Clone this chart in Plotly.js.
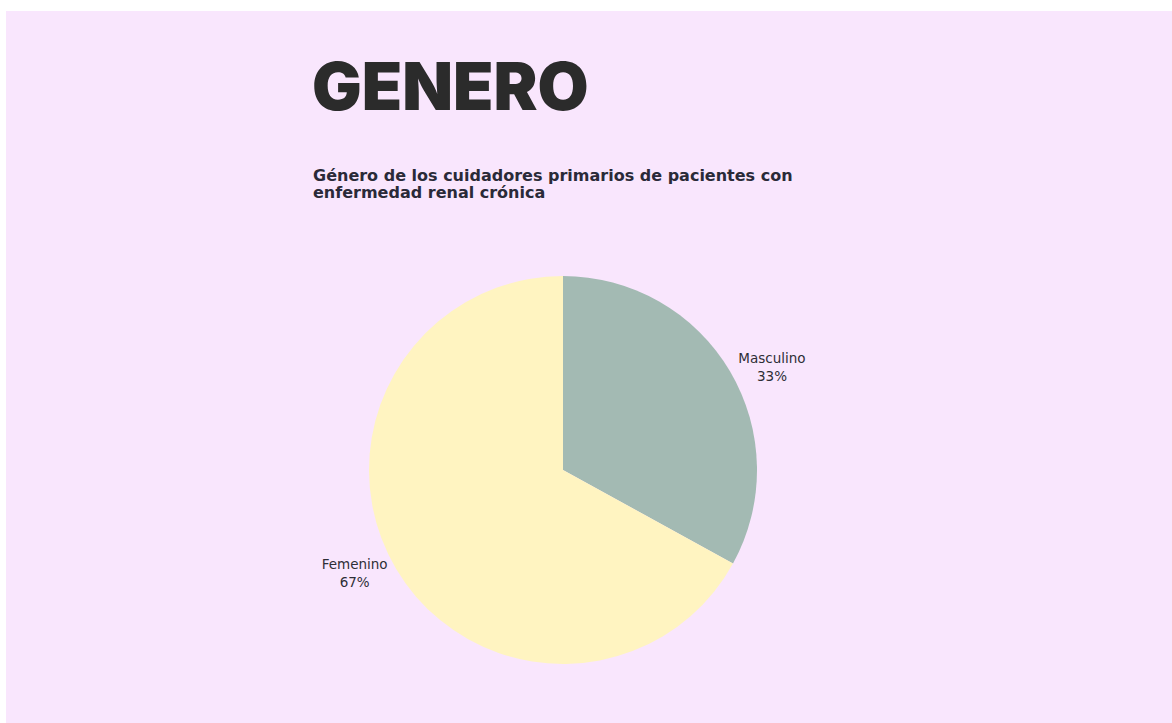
<!DOCTYPE html>
<html>
<head>
<meta charset="utf-8">
<script src="https://cdn.plot.ly/plotly-3.0.1.min.js"></script>
<style>
  html, body { margin: 0; padding: 0; background: #ffffff; }
  #chart { position: absolute; left: 6px; top: 11px; width: 1166px; height: 712px; }
</style>
</head>
<body>
<div id="chart"></div>
<script>
const categories = ["Masculino", "Femenino"];
const values = [33, 67];
const colors = ["#a3bab3", "#fff4c1"];
const mainTitle = "GENERO";
const subTitleLines = ["Género de los cuidadores primarios de pacientes con", "enfermedad renal crónica"];

const W = 1166, H = 712;
const fx = p => p / W;
const fy = p => 1 - p / H;

const cx = 557, cy = 459, r = 194;

const trace = {
  type: "pie",
  labels: categories,
  values: values,
  sort: false,
  direction: "clockwise",
  rotation: 0,
  marker: { colors: colors, line: { width: 0 } },
  textinfo: "label+percent",
  textposition: "outside",
  textfont: { family: "'DejaVu Sans', sans-serif", size: 13.5, color: "#2e2e36" },
  hoverinfo: "label+percent",
  domain: { x: [fx(cx - r), fx(cx + r)], y: [fy(cy + r), fy(cy - r)] },
  showlegend: false
};

const subFont = { family: "'DejaVu Sans', sans-serif", size: 16, weight: 700, color: "#2a2a38" };

const layout = {
  width: W,
  height: H,
  margin: { l: 0, r: 0, t: 0, b: 0 },
  paper_bgcolor: "#f9e6fd",
  plot_bgcolor: "#f9e6fd",
  showlegend: false,
  annotations: [
    {
      text: mainTitle,
      xref: "paper", yref: "paper",
      x: fx(304), y: fy(117),
      xanchor: "left", yanchor: "bottom",
      showarrow: false,
      font: { family: "Inter, sans-serif", size: 66, weight: 900, color: "#2b2b2b" }
    },
    {
      text: subTitleLines[0],
      xref: "paper", yref: "paper",
      x: fx(305), y: fy(176),
      xanchor: "left", yanchor: "bottom",
      showarrow: false,
      font: subFont
    },
    {
      text: subTitleLines[1],
      xref: "paper", yref: "paper",
      x: fx(305), y: fy(193),
      xanchor: "left", yanchor: "bottom",
      showarrow: false,
      font: subFont
    }
  ]
};

Plotly.newPlot("chart", [trace], layout, { displayModeBar: false, staticPlot: true });
</script>
</body>
</html>
